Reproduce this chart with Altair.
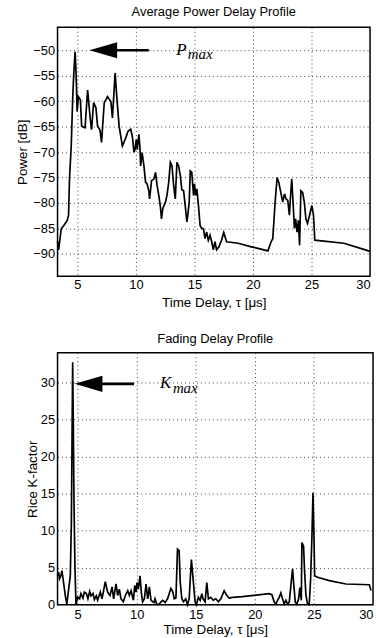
import altair as alt
import pandas as pd

# ---------------- data ----------------
# Average power delay profile (tau in microseconds, power in dB)
tau_p = [3.3, 3.39, 3.62, 3.84, 4.13, 4.24, 4.32, 4.47, 4.60, 4.69, 4.80, 4.86, 4.92, 4.97,
         5.08, 5.25, 5.36, 5.65, 5.87, 6.10, 6.21, 6.38, 6.58, 6.72, 6.92, 7.06, 7.29, 7.57,
         7.86, 7.99, 8.22, 8.36, 8.56, 8.84, 9.13, 9.32, 9.55, 9.69, 9.75, 9.83, 9.92, 10.03,
         10.11, 10.25, 10.34, 10.40, 10.53, 10.68, 10.82, 10.96, 11.10, 11.16, 11.24, 11.33,
         11.53, 11.67, 11.81, 11.95, 12.09, 12.18, 12.29, 12.52, 12.65, 12.80, 12.94, 13.08,
         13.22, 13.36, 13.50, 13.64, 13.79, 13.92, 14.07, 14.21, 14.35, 14.43, 14.55, 14.64,
         14.77, 14.92, 15.00, 15.11, 15.20, 15.34, 15.48, 15.62, 15.76, 15.90, 16.04, 16.18,
         16.33, 16.47, 16.61, 16.75, 16.89, 17.09, 17.31, 17.50, 17.74, 18.73, 19.86, 21.27,
         21.55, 21.69, 21.89, 22.06, 22.20, 22.40, 22.54, 22.69, 22.82, 22.97, 23.11, 23.19,
         23.31, 23.42, 23.54, 23.64, 23.76, 23.87, 23.98, 24.09, 24.24, 24.38, 24.52, 24.66,
         24.80, 25.03, 25.17, 25.28, 27.77, 29.60, 30.00]
power_db = [-87.5, -89.2, -85.0, -84.4, -83.4, -82.4, -75.3, -68.8, -59.1, -54.5, -50.3, -53.2,
            -57.1, -62.0, -59.1, -59.7, -64.9, -65.2, -57.8, -63.6, -65.6, -60.3, -61.3, -64.9,
            -65.6, -68.1, -60.3, -59.1, -60.1, -63.3, -54.5, -59.1, -64.9, -68.8, -67.2, -65.9,
            -65.5, -66.9, -68.2, -70.0, -69.5, -67.5, -69.5, -66.5, -69.1, -72.7, -70.1, -72.7,
            -75.9, -76.3, -77.6, -79.2, -77.6, -75.6, -75.3, -74.0, -76.6, -78.5, -80.8, -83.1,
            -81.1, -79.8, -78.5, -75.9, -72.0, -72.7, -76.6, -79.2, -72.0, -72.7, -74.6, -77.4,
            -77.6, -80.5, -83.7, -82.4, -79.8, -73.7, -74.0, -78.5, -76.3, -78.5, -77.2, -80.5,
            -84.4, -85.0, -85.0, -87.0, -85.7, -87.3, -86.3, -87.6, -89.2, -87.6, -89.2, -88.6,
            -87.3, -85.8, -87.6, -87.9, -88.6, -89.4, -87.6, -87.0, -79.8, -75.0, -75.9, -78.2,
            -79.8, -78.2, -79.2, -79.5, -82.4, -79.2, -75.3, -79.8, -85.0, -83.1, -85.7, -83.4,
            -88.3, -77.6, -77.9, -79.8, -83.1, -84.0, -82.7, -80.5, -82.4, -87.3, -87.9, -89.2,
            -89.5]

# Fading delay profile (tau in microseconds, Rice K-factor)
tau_k = [3.3, 3.39, 3.47, 3.58, 3.67, 3.81, 3.96, 4.09, 4.24, 4.38, 4.47, 4.52, 4.58, 4.64,
         4.69, 4.77, 4.86, 5.00, 5.17, 5.28, 5.45, 5.57, 5.74, 5.87, 6.02, 6.13, 6.30, 6.42,
         6.58, 6.69, 6.92, 7.06, 7.20, 7.34, 7.54, 7.74, 7.91, 8.05, 8.25, 8.39, 8.53, 8.67,
         8.87, 9.04, 9.24, 9.38, 9.52, 9.72, 9.83, 9.94, 10.03, 10.14, 10.28, 10.40, 10.50,
         10.65, 10.79, 10.93, 11.07, 11.21, 11.36, 11.47, 11.55, 11.69, 11.90, 12.06, 12.19,
         12.41, 12.61, 12.89, 13.04, 13.18, 13.32, 13.45, 13.59, 13.68, 13.82, 13.96, 14.15,
         14.30, 14.44, 14.55, 14.63, 14.77, 14.94, 15.05, 15.22, 15.37, 15.51, 15.62, 15.79,
         15.93, 16.07, 16.27, 16.47, 16.69, 16.92, 17.12, 17.40, 17.60, 17.82, 18.11, 18.95,
         21.21, 21.44, 21.64, 21.78, 21.92, 22.06, 22.20, 22.34, 22.48, 22.63, 22.77, 22.91,
         23.05, 23.19, 23.28, 23.42, 23.56, 23.70, 23.81, 23.93, 23.98, 24.12, 24.20, 24.32,
         24.46, 24.60, 24.72, 24.83, 24.92, 25.00, 25.06, 25.31, 26.30, 27.71, 29.69, 29.83]
rice_k = [3.9, 4.4, 3.5, 3.9, 4.6, 3.0, 1.2, 0.1, 2.1, 3.9, 11.0, 20.9, 32.7, 23.6, 14.2, 5.3,
          0.0, 1.0, 0.8, 1.5, 0.9, 1.7, 1.5, 0.8, 1.8, 1.2, 1.5, 0.7, 1.2, 0.6, 1.7, 0.8, 1.9,
          3.1, 1.7, 1.25, 2.4, 0.8, 2.8, 1.25, 2.1, 0.8, 0.4, 1.25, 1.9, 1.25, 1.9, 0.6, 2.6,
          1.7, 3.0, 2.1, 3.9, 1.5, 0.4, 0.8, 2.8, 0.8, 2.4, 0.6, 0.4, 0.3, 0.8, 0.1, 0.05, 0.4,
          0.6, 0.3, 0.8, 2.2, 1.8, 0.8, 0.9, 7.5, 7.3, 3.1, 0.8, 0.4, 0.8, 0.0, 0.8, 4.0, 6.1,
          3.5, 0.4, 0.0, 1.0, 0.6, 1.5, 0.8, 0.4, 3.0, 0.8, 1.0, 0.6, 0.8, 0.4, 0.8, 1.9, 1.3,
          0.9, 1.0, 1.1, 1.5, 1.35, 0.36, 0.1, 0.6, 1.0, 1.6, 0.8, 0.1, 0.6, 0.1, 0.36, 2.6,
          4.8, 3.0, 0.36, 0.1, 0.8, 2.3, 0.6, 8.4, 7.9, 4.8, 1.3, 0.1, 0.0, 3.5, 9.3, 15.1, 9.3,
          3.9, 3.7, 3.25, 2.8, 2.7, 1.9]

x_ticks = [5, 10, 15, 20, 25, 30]
power_ticks = [-90, -85, -80, -75, -70, -65, -60, -55, -50]
k_ticks = [0, 5, 10, 15, 20, 25, 30]

# annotation anchors (data coordinates): arrow tip x, arrowhead base x, shaft end x, y, label x, label y
p_arrow = {"tip": [6.02], "base": [8.2], "end": [11.1], "y": [-50.0], "lx": [13.45], "ly": [-50.97]}
k_arrow = {"tip": [4.75], "base": [7.0], "end": [9.77], "y": [29.8], "lx": [11.97], "ly": [29.3]}

X_DOM = [3.3, 30.0]
SANS = "Liberation Sans"
SERIF = "Liberation Serif"
HEAD = "M0,0L2,-0.58L2,0.58Z"


def panel(taus, vals, ydom, yticks, title, ytitle, w, h, ann, letter, sub_dx, sub_dy,
          xlab_pad, xtitle_pad, title_offset, y_extent, y_title_pad):
    df = pd.DataFrame({"tau": taus, "val": vals})
    adf = pd.DataFrame({"tau": ann["tip"], "tau2": ann["end"], "base": ann["base"],
                        "val": ann["y"], "lx": ann["lx"], "ly": ann["ly"]})
    xs = alt.Scale(domain=X_DOM, nice=False, zero=False)
    ys = alt.Scale(domain=ydom, nice=False, zero=False)
    xa = alt.Axis(values=x_ticks, title="Time Delay, τ [μs]", labelFlush=True,
                  labelPadding=xlab_pad, titlePadding=xtitle_pad)
    ya = alt.Axis(values=yticks, title=ytitle, minExtent=y_extent, maxExtent=y_extent,
                  titlePadding=y_title_pad)

    line = alt.Chart(df).mark_line(color="black", strokeWidth=1.7).encode(
        x=alt.X("tau:Q", scale=xs, axis=xa),
        y=alt.Y("val:Q", scale=ys, axis=ya),
    )
    shaft = alt.Chart(adf).mark_rule(color="black", strokeWidth=2.6).encode(
        x=alt.X("base:Q", scale=xs, axis=xa),
        x2="tau2:Q",
        y=alt.Y("val:Q", scale=ys, axis=ya),
    )
    head = alt.Chart(adf).mark_point(shape=HEAD, size=784, filled=True, color="black",
                                     opacity=1, strokeWidth=0).encode(
        x=alt.X("tau:Q", scale=xs, axis=xa),
        y=alt.Y("val:Q", scale=ys, axis=ya),
    )
    big = alt.Chart(adf).mark_text(text=letter, font=SERIF, fontStyle="italic", fontSize=17,
                                   align="left", baseline="alphabetic", color="black").encode(
        x=alt.X("lx:Q", scale=xs, axis=xa),
        y=alt.Y("ly:Q", scale=ys, axis=ya),
    )
    small = alt.Chart(adf).mark_text(text="max", font=SERIF, fontStyle="italic", fontSize=15,
                                     align="left", baseline="alphabetic", color="black",
                                     dx=sub_dx, dy=sub_dy).encode(
        x=alt.X("lx:Q", scale=xs, axis=xa),
        y=alt.Y("ly:Q", scale=ys, axis=ya),
    )
    return alt.layer(line, shaft, head, big, small).properties(
        width=w, height=h,
        title=alt.TitleParams(title, offset=title_offset))


top = panel(tau_p, power_db, [-94.4, -45.5], power_ticks, "Average Power Delay Profile",
            "Power [dB]", 315, 251, p_arrow, "P", 11.5, 4, 2, 4, 8, 25, 3)
bottom = panel(tau_k, rice_k, [0, 34], k_ticks, "Fading Delay Profile",
               "Rice K-factor", 318, 254, k_arrow, "K", 13, 5, 4, 1, 7, 15.5, 3)

chart = alt.vconcat(top, bottom, spacing=22).properties(
    padding={"left": 15, "top": 3, "right": 0, "bottom": 0},
    background="white",
).configure_view(
    stroke="black", strokeWidth=1.5
).configure_axis(
    labelFont=SANS, labelFontSize=13, labelColor="black", labelPadding=3,
    titleFont=SANS, titleFontSize=13.5, titleFontWeight="normal", titleColor="black",
    titlePadding=2, ticks=False, domain=False,
    grid=True, gridColor="#333", gridDash=[1, 3], gridWidth=0.9, gridOpacity=1,
).configure_title(
    font=SANS, fontSize=13, fontWeight="normal", color="black", anchor="middle"
)

chart.save("out.html", embed_options={"renderer": "svg", "actions": False})
